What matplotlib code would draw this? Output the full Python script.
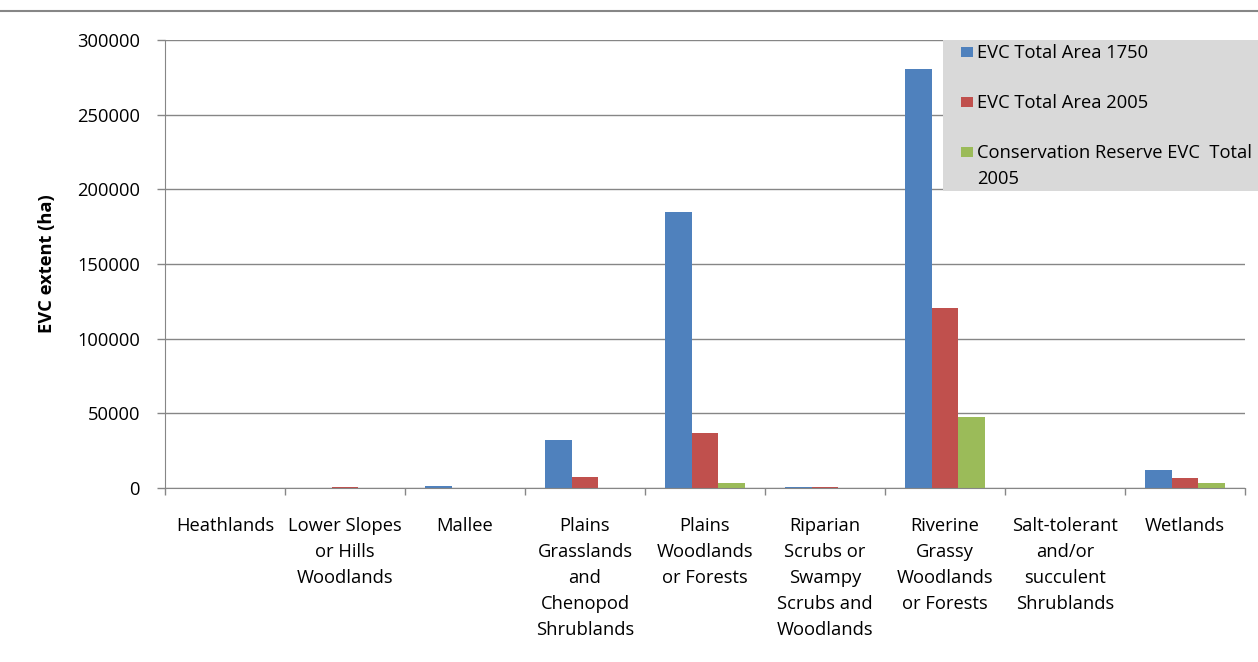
import matplotlib
matplotlib.use("Agg")
import matplotlib.pyplot as plt
from matplotlib.patches import Rectangle
from matplotlib.lines import Line2D
import numpy as np

categories = ["Heathlands", "Lower Slopes\nor Hills\nWoodlands", "Mallee",
              "Plains\nGrasslands\nand\nChenopod\nShrublands", "Plains\nWoodlands\nor Forests",
              "Riparian\nScrubs or\nSwampy\nScrubs and\nWoodlands", "Riverine\nGrassy\nWoodlands\nor Forests",
              "Salt-tolerant\nand/or\nsucculent\nShrublands", "Wetlands"]
area_1750 = [0, 100, 1300, 32000, 184500, 900, 280500, 0, 11800]
area_2005 = [0, 500, 100, 7600, 36800, 500, 120500, 0, 7000]
reserve_2005 = [0, 0, 0, 0, 3600, 0, 47300, 0, 3300]
series_names = ["EVC Total Area 1750", "EVC Total Area 2005", "Conservation Reserve EVC  Total\n2005"]
colors = ["#4f81bd", "#c0504d", "#9bbb59"]
yticks = [0, 50000, 100000, 150000, 200000, 250000, 300000]

FS = 13.2
plt.rcParams['font.family'] = ['Open Sans', 'DejaVu Sans']
fig = plt.figure(figsize=(12.58, 6.62), dpi=100)
W, H = 1258, 662
ax = fig.add_axes([165 / W, 1 - 488 / H, (1245 - 165) / W, (488 - 40) / H])

x = np.arange(len(categories))
bw = 0.222
for i, (vals, c) in enumerate(zip([area_1750, area_2005, reserve_2005], colors)):
    ax.bar(x + (i - 1) * bw, vals, width=bw, color=c, zorder=3, linewidth=0)

ax.set_xlim(-0.5, len(categories) - 0.5)
ax.set_ylim(0, 300000)
ax.set_yticks(yticks)
ax.set_yticklabels([str(v) for v in yticks], fontsize=FS, color="#000000")
ax.yaxis.grid(True, color="#868686", linewidth=1, zorder=0)
ax.set_xticks(x)
ax.set_xticklabels(categories, fontsize=FS, linespacing=1.565, va="top")
ax.tick_params(axis="x", length=0, pad=21)
ax.set_xticks(np.arange(len(categories) + 1) - 0.5, minor=True)
ax.tick_params(axis="x", which="minor", length=5, color="#868686", width=1)
ax.tick_params(axis="y", length=6, color="#868686", width=1, pad=12)
for s in ["top", "right"]:
    ax.spines[s].set_visible(False)
ax.spines["left"].set_color("#868686")
ax.spines["bottom"].set_color("#868686")
ax.spines["bottom"].set_zorder(4)
ax.set_ylabel("EVC extent (ha)", fontsize=FS, fontweight="bold")
ax.yaxis.set_label_coords((56 - 165) / 1080, 0.5)

# top rule
fig.add_artist(Line2D([0, 1], [1 - 11 / H, 1 - 11 / H], color="#868686", linewidth=1.5))

# legend box
fig.add_artist(Rectangle((943 / W, 1 - 191 / H), (W - 943) / W, 151 / H,
                         facecolor="#d9d9d9", edgecolor="none", transform=fig.transFigure, zorder=5))
legend_y = [52, 102, 152]
for name, c, yy in zip(series_names, colors, legend_y):
    fig.add_artist(Rectangle((961 / W, 1 - (yy + 5) / H), 12 / W, 10 / H,
                             facecolor=c, edgecolor="none", transform=fig.transFigure, zorder=6))
    for k, line in enumerate(name.split("\n")):
        fig.text(977 / W, 1 - (yy + 6.5 + 25 * k) / H, line, fontsize=FS, va="baseline", ha="left",
                 zorder=7)

fig.savefig("out.png", dpi=100)
